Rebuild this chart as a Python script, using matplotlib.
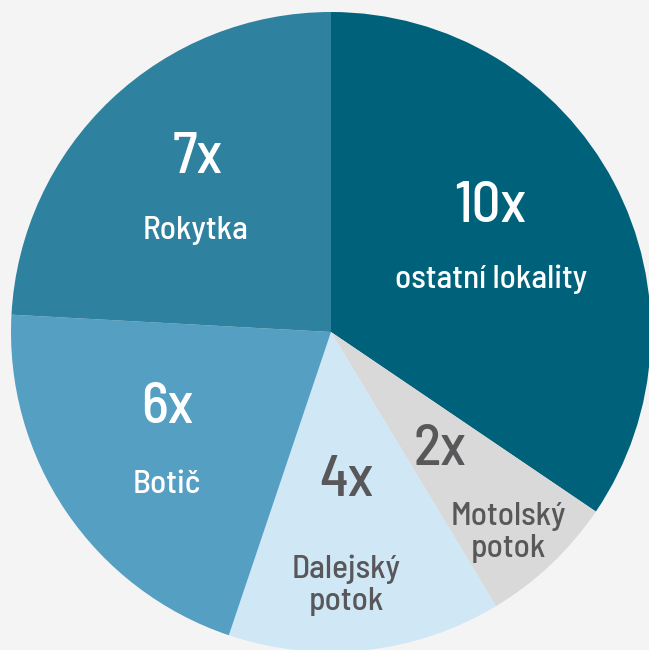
import matplotlib
matplotlib.use("Agg")
import matplotlib.pyplot as plt

# data
labels = ["ostatní lokality", "Motolský\npotok", "Dalejský\npotok", "Botič", "Rokytka"]
counts = [10, 2, 4, 6, 7]
colors = ["#00627a", "#d9d9d9", "#d0e7f5", "#559fc3", "#2e82a0"]
text_colors = ["white", "#58585a", "#58585a", "white", "white"]

# label placement (pixels in the 649x650 image): number baseline, label last-line baseline
num_pos = [(490, 222), (440, 465), (346, 496), (167, 423), (198, 173)]
lab_pos = [(491, 288), (508, 557), (346, 610), (167, 493), (196, 239)]

W, H = 649, 650
cx, cy, R = 331, 332, 320

fig = plt.figure(figsize=(W / 100, H / 100), dpi=100)
fig.patch.set_facecolor("#f4f4f4")
ax = fig.add_axes([0, 0, 1, 1])
ax.set_facecolor("#f4f4f4")

ax.pie(counts, colors=colors, startangle=90, counterclock=False, radius=1,
       wedgeprops=dict(linewidth=0))

ax.set_xlim(-cx / R, (W - cx) / R)
ax.set_ylim(-(H - cy) / R, cy / R)
ax.set_aspect("equal")
ax.axis("off")


def to_data(px, py):
    return (px - cx) / R, (cy - py) / R


font = "Barlow Semi Condensed"
for i in range(len(counts)):
    x, y = to_data(*num_pos[i])
    ax.text(x, y, f"{counts[i]}x", ha="center", va="baseline", color=text_colors[i],
            fontsize=41, family=font, fontweight=500)
    x, y = to_data(*lab_pos[i])
    ax.text(x, y, labels[i], ha="center", va="baseline", color=text_colors[i],
            fontsize=24, family=font, fontweight=500, linespacing=1.15,
            multialignment="center")

fig.savefig("out.png", dpi=100, facecolor=fig.get_facecolor())
